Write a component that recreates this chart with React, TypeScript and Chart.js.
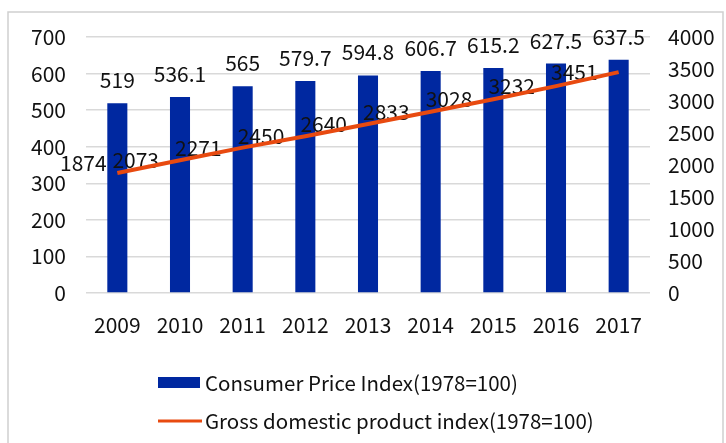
import React, { useEffect, useRef } from "react";
import { Chart, registerables } from "chart.js";

Chart.register(...registerables);

const years = ["2009", "2010", "2011", "2012", "2013", "2014", "2015", "2016", "2017"];
const cpiValues = [519, 536.1, 565, 579.7, 594.8, 606.7, 615.2, 627.5, 637.5];
const gdpValues = [1874, 2073, 2271, 2450, 2640, 2833, 3028, 3232, 3451];
const cpiLabel = "Consumer Price Index(1978=100)";
const gdpLabel = "Gross domestic product index(1978=100)";
const leftAxisRange = [0, 700, 100];
const rightAxisRange = [0, 4000, 500];

const FONT_FAMILY = '"Noto Sans CJK SC", "Noto Sans", sans-serif';
const FONT_SIZE = 21;
const LEGEND_FONT_SIZE = 20.5;
const TEXT_COLOR = "#111111";
const BAR_COLOR = "#0028A0";
const LINE_COLOR = "#E84A10";
const GRID_COLOR = "#d9d9d9";

const framePlugin = {
  id: "frame",
  beforeDraw(chart: any) {
    const ctx = chart.ctx;
    ctx.save();
    ctx.fillStyle = "#ffffff";
    ctx.fillRect(0, 0, chart.width, chart.height);
    ctx.strokeStyle = "#cfcfcf";
    ctx.lineWidth = 1.5;
    ctx.strokeRect(8, 12, 715, 600);
    ctx.restore();
  },
};

const valueLabelPlugin = {
  id: "valueLabels",
  afterDatasetDraw(chart: any, args: any) {
    if (args.index !== 0) return;
    const ctx = chart.ctx;
    ctx.save();
    ctx.font = `${FONT_SIZE}px ${FONT_FAMILY}`;
    ctx.fillStyle = TEXT_COLOR;
    const barMeta = chart.getDatasetMeta(0);
    const barData = chart.data.datasets[0].data;
    ctx.textAlign = "center";
    ctx.textBaseline = "alphabetic";
    barMeta.data.forEach((el: any, i: number) => {
      ctx.fillText(String(barData[i]), el.x, el.y - 15);
    });
    const lineMeta = chart.getDatasetMeta(1);
    const lineData = chart.data.datasets[1].data;
    const minLeft = chart.chartArea.left - 26;
    ctx.textAlign = "right";
    ctx.textBaseline = "middle";
    lineMeta.data.forEach((pt: any, i: number) => {
      const txt = String(lineData[i]);
      const w = ctx.measureText(txt).width;
      let right = pt.x - 21;
      let y = pt.y;
      if (right - w < minLeft) {
        right = minLeft + w;
        y -= 10;
      }
      ctx.fillText(txt, right, y);
    });
    ctx.restore();
  },
};

const legendPlugin = {
  id: "stackedLegend",
  afterDraw(chart: any) {
    const ctx = chart.ctx;
    const ds = chart.data.datasets;
    ctx.save();
    ctx.font = `${LEGEND_FONT_SIZE}px ${FONT_FAMILY}`;
    ctx.textAlign = "left";
    ctx.textBaseline = "middle";
    ctx.fillStyle = ds[0].backgroundColor;
    ctx.fillRect(158, 377, 42, 11);
    ctx.fillStyle = TEXT_COLOR;
    ctx.fillText(ds[0].label, 205, 383);
    ctx.strokeStyle = ds[1].borderColor;
    ctx.lineWidth = 3;
    ctx.beginPath();
    ctx.moveTo(158, 421);
    ctx.lineTo(202, 421);
    ctx.stroke();
    ctx.fillText(ds[1].label, 205, 421);
    ctx.restore();
  },
};

export default function App() {
  const canvasRef = useRef<HTMLCanvasElement | null>(null);

  useEffect(() => {
    if (!canvasRef.current) return;
    const tickFont = { family: FONT_FAMILY, size: FONT_SIZE };
    const plain = (v: any) => String(v);
    const chart = new Chart(canvasRef.current, {
      type: "bar",
      data: {
        labels: years,
        datasets: [
          {
            type: "bar",
            label: cpiLabel,
            data: cpiValues,
            backgroundColor: BAR_COLOR,
            borderColor: BAR_COLOR,
            borderWidth: 0,
            barPercentage: 0.32,
            categoryPercentage: 1,
            yAxisID: "y",
            order: 1,
          },
          {
            type: "line",
            label: gdpLabel,
            data: gdpValues,
            borderColor: LINE_COLOR,
            backgroundColor: LINE_COLOR,
            borderWidth: 4,
            pointRadius: 0,
            tension: 0,
            fill: false,
            yAxisID: "y1",
            order: 0,
          },
        ],
      } as any,
      options: {
        animation: false,
        responsive: true,
        maintainAspectRatio: false,
        devicePixelRatio: 1,
        layout: { padding: { top: 37, bottom: 100, left: 0, right: 0 } },
        plugins: {
          legend: { display: false },
          tooltip: { enabled: false },
        },
        scales: {
          x: {
            grid: { display: false, drawTicks: false },
            border: { display: false },
            ticks: { font: tickFont, color: TEXT_COLOR, padding: 19, maxRotation: 0 },
            afterFit(scale: any) {
              scale.height = 50;
            },
          },
          y: {
            position: "left",
            min: leftAxisRange[0],
            max: leftAxisRange[1],
            ticks: { stepSize: leftAxisRange[2], font: tickFont, color: TEXT_COLOR, padding: 20, callback: plain },
            grid: { color: GRID_COLOR, lineWidth: 1.5, drawTicks: false },
            border: { display: false },
            afterFit(scale: any) {
              scale.width = 86;
            },
          },
          y1: {
            position: "right",
            min: rightAxisRange[0],
            max: rightAxisRange[1],
            ticks: { stepSize: rightAxisRange[2], font: tickFont, color: TEXT_COLOR, padding: 18, callback: plain },
            grid: { display: false, drawTicks: false },
            border: { display: false },
            afterFit(scale: any) {
              scale.width = 76;
            },
          },
        },
      } as any,
      plugins: [framePlugin, valueLabelPlugin, legendPlugin],
    });
    return () => chart.destroy();
  }, []);

  return (
    <div
      style={{
        position: "fixed",
        left: 0,
        top: 0,
        width: 726,
        height: 443,
        background: "#ffffff",
      }}
    >
      <canvas ref={canvasRef} />
    </div>
  );
}
